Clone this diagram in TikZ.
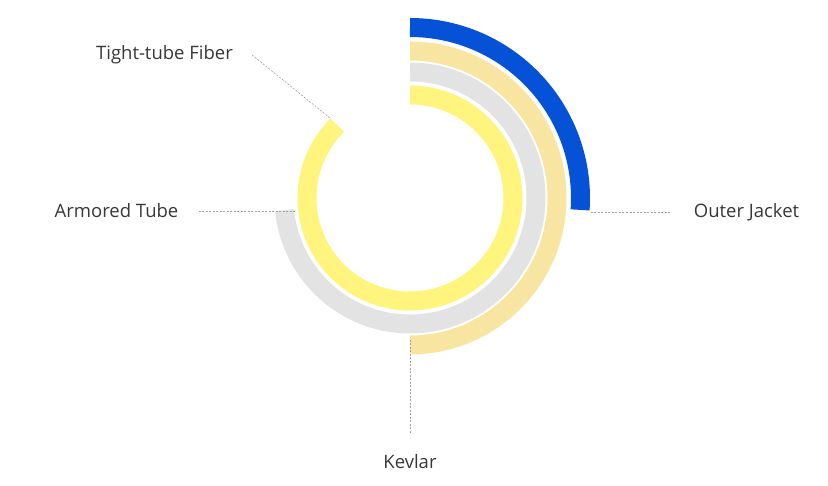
\documentclass[tikz,border=0pt]{standalone}
\usepackage{fontspec}
\setmainfont{Open Sans}
\definecolor{jacketblue}{RGB}{6,82,214}
\definecolor{kevlartan}{RGB}{248,229,162}
\definecolor{tubegray}{RGB}{227,227,227}
\definecolor{fiberyellow}{RGB}{255,244,125}
\definecolor{labelgray}{RGB}{55,55,55}

\begin{document}
\begin{tikzpicture}[x=1pt,y=1pt,
    ring/.style={line width=19pt},
    leader/.style={draw=gray!75,dash pattern=on 2pt off 1.5pt,line width=0.6pt},
    lbl/.style={text=labelgray,font=\fontsize{18.5}{22}\selectfont,inner sep=0pt}]
    \useasboundingbox (-410,-288) rectangle (418,198);
    \coordinate (c) at (0,0);

    % rings, inside out
    \draw[ring,fiberyellow](c)++(90:103)arc[start angle=90,end angle=-225,radius=103];
    \draw[ring,tubegray](c)++(90:126)arc[start angle=90,end angle=-174.5,radius=126];
    \draw[ring,kevlartan](c)++(90:147)arc[start angle=90,end angle=-90,radius=147];
    \draw[ring,jacketblue](c)++(90:170.5)arc[start angle=90,end angle=-4,radius=170.5];

    \coordinate (fiberend) at (135:113);
    \coordinate (tubeend) at (-115,-13);
    \coordinate (jacketend) at (181,-14);
    \coordinate (kevlarend) at (0,-142);

    \node[lbl] (fiber) at (-245.5,143) {Tight-tube Fiber};
    \node[lbl] (tube) at (-293.5,-13) {Armored Tube};
    \node[lbl] (jacket) at (336.5,-14) {Outer Jacket};
    \node[lbl] (kevlar) at (0,-264) {Kevlar};

    \draw[leader]([xshift=19pt]fiber.east)--(fiberend);
    \draw[leader]([xshift=20pt]tube.east)--(tubeend);
    \draw[leader](jacketend)--([xshift=-23pt]jacket.west);
    \draw[leader](kevlarend)--([yshift=22pt]kevlar.north);
\end{tikzpicture}
\end{document}
